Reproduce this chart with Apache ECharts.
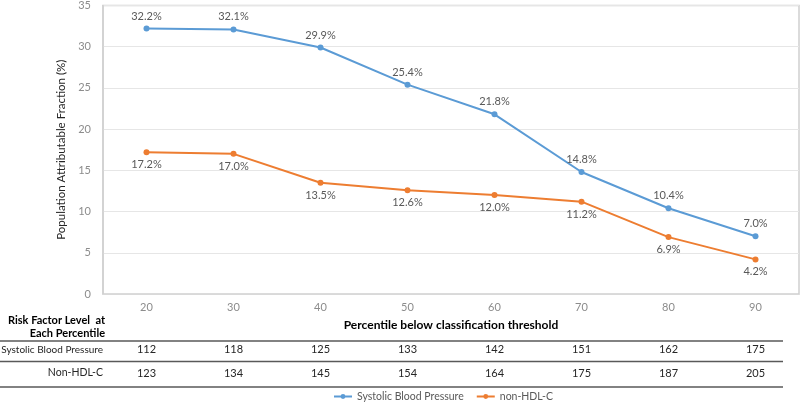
<!DOCTYPE html>
<html>
<head>
<meta charset="utf-8">
<script src="https://cdn.jsdelivr.net/npm/echarts@6/dist/echarts.min.js"></script>
<style>
html,body{margin:0;padding:0;background:#fff;}
#chart{width:800px;height:407px;}
</style>
</head>
<body>
<div id="chart"></div>
<script>
const percentiles = ['20', '30', '40', '50', '60', '70', '80', '90'];
const sbpPAF = [32.2, 32.1, 29.9, 25.4, 21.8, 14.8, 10.4, 7.0];
const nonHdlPAF = [17.2, 17.0, 13.5, 12.6, 12.0, 11.2, 6.9, 4.2];
const sbpLevels = ['112', '118', '125', '133', '142', '151', '162', '175'];
const nonHdlLevels = ['123', '134', '145', '154', '164', '175', '187', '205'];
const seriesNames = ['Systolic Blood Pressure', 'non-HDL-C'];
const rowNames = ['Systolic Blood Pressure', 'Non-HDL-C'];
const tableTitle = 'Risk Factor Level  at\nEach Percentile';

const FONT = 'Lato, "Liberation Sans", sans-serif';
const chart = echarts.init(document.getElementById('chart'), null, {renderer: 'canvas'});

const tableAxis = (data, offset) => ({
  type: 'category',
  gridIndex: 0,
  position: 'bottom',
  offset: offset,
  data: data,
  boundaryGap: true,
  axisLine: {show: false},
  axisTick: {show: false},
  splitLine: {show: false},
  axisLabel: {margin: 0, color: '#262626', fontSize: 11, fontFamily: FONT, interval: 0}
});

chart.setOption({
  animation: false,
  textStyle: {fontFamily: FONT},
  grid: {left: 103, right: 1, top: 4, bottom: 113, show: true, borderColor: '#d0d0d0', borderWidth: 1.5, containLabel: false},
  xAxis: [
    {
      type: 'category',
      data: percentiles,
      boundaryGap: true,
      axisLine: {show: true, lineStyle: {color: '#d9d9d9', width: 1}},
      axisTick: {show: false},
      axisLabel: {color: '#8c8c8c', fontSize: 11, margin: 8, fontFamily: FONT},
      name: 'Percentile below classification threshold',
      nameLocation: 'middle',
      nameGap: 25,
      nameTextStyle: {color: '#000', fontSize: 12, fontWeight: 'bold', fontFamily: FONT}
    },
    tableAxis(sbpLevels, 50),
    tableAxis(nonHdlLevels, 74)
  ],
  yAxis: {
    type: 'value',
    min: 0, max: 35, interval: 5,
    axisLine: {show: true, lineStyle: {color: '#d0d0d0', width: 1.5}},
    axisTick: {show: false},
    splitLine: {lineStyle: {color: '#e6e6e6', width: 1}},
    axisLabel: {color: '#8c8c8c', fontSize: 11, margin: 12, fontFamily: FONT},
    name: 'Population Attributable Fraction (%)',
    nameLocation: 'middle',
    nameGap: 31,
    nameTextStyle: {color: '#262626', fontSize: 11.5, fontFamily: FONT}
  },
  legend: {
    left: 328, bottom: 0,
    itemWidth: 18, itemHeight: 6, itemGap: 12,
    textStyle: {color: '#595959', fontSize: 10.5, fontFamily: FONT},
    data: seriesNames
  },
  series: [
    {
      name: seriesNames[0], type: 'line', data: sbpPAF,
      symbol: 'circle', symbolSize: 6,
      lineStyle: {color: '#5B9BD5', width: 2},
      itemStyle: {color: '#5B9BD5'},
      label: {show: true, position: 'top', distance: 4, color: '#595959', fontSize: 11, fontFamily: FONT,
        formatter: p => p.value.toFixed(1) + '%'}
    },
    {
      name: seriesNames[1], type: 'line', data: nonHdlPAF,
      symbol: 'circle', symbolSize: 6,
      lineStyle: {color: '#ED7D31', width: 2},
      itemStyle: {color: '#ED7D31'},
      label: {show: true, position: 'bottom', distance: 4, color: '#595959', fontSize: 11, fontFamily: FONT,
        formatter: p => p.value.toFixed(1) + '%'}
    }
  ],
  graphic: [
    {type: 'text', x: 105, y: 314, style: {text: tableTitle, align: 'right', verticalAlign: 'top', fill: '#000', font: 'bold 11px ' + FONT, lineHeight: 13}},
    {type: 'text', x: 103, y: 350, style: {text: rowNames[0], align: 'right', verticalAlign: 'middle', fill: '#262626', font: '10px ' + FONT}},
    {type: 'text', x: 103, y: 373, style: {text: rowNames[1], align: 'right', verticalAlign: 'middle', fill: '#262626', font: '10.5px ' + FONT}},
    {type: 'line', shape: {x1: 0, y1: 341, x2: 783, y2: 341}, style: {stroke: '#595959', lineWidth: 1.5}},
    {type: 'line', shape: {x1: 0, y1: 361.5, x2: 783, y2: 361.5}, style: {stroke: '#595959', lineWidth: 1.5}},
    {type: 'line', shape: {x1: 0, y1: 387, x2: 783, y2: 387}, style: {stroke: '#595959', lineWidth: 1.5}}
  ]
});
</script>
</body>
</html>
